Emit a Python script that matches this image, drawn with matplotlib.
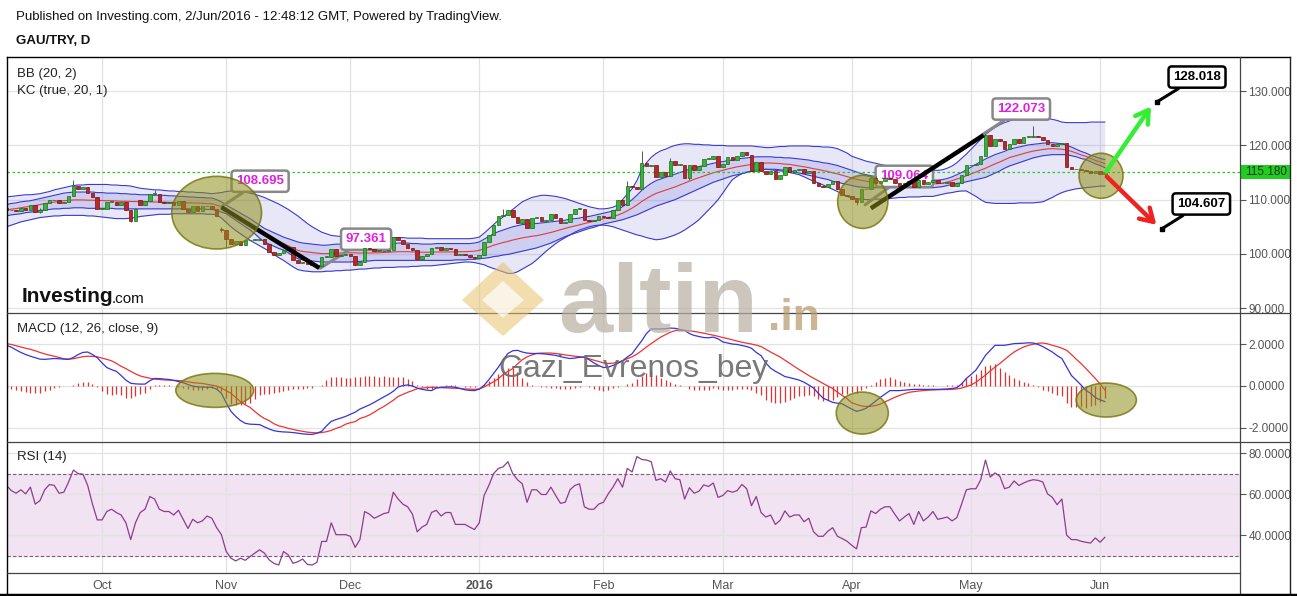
import matplotlib
matplotlib.use('Agg')
import numpy as np
import pandas as pd
import matplotlib.pyplot as plt
from matplotlib.patches import Ellipse, Rectangle, Polygon
from matplotlib.lines import Line2D

plt.rcParams['font.family'] = ['Liberation Sans', 'DejaVu Sans']
plt.rcParams['axes.unicode_minus'] = False

# daily bars (sunday sessions included, no saturdays)
dates = pd.date_range('2015-09-08', '2016-06-02')
dates = dates[dates.dayofweek != 5]
month_labels = ['Oct', 'Nov', 'Dec', '2016', 'Feb', 'Mar', 'Apr', 'May', 'Jun']

close = [
    108.0, 108.0, 107.9, 108.5, 108.0, 109.0, 107.7, 108.0, 109.3, 109.9,
    110.0, 109.3, 109.6, 110.6, 112.6, 112.0, 112.3, 111.2, 110.5, 108.3,
    108.3, 109.6, 109.6, 109.0, 109.5, 108.0, 106.1, 108.2, 109.1, 109.7,
    111.1, 111.1, 109.6, 109.4, 109.6, 109.1, 109.7, 108.3, 107.7, 108.8,
    107.9, 108.8, 108.8, 108.2, 106.9, 104.4, 102.8, 101.9, 102.4, 101.7,
    102.5, 102.6, 102.6, 102.8, 101.9, 100.4, 99.8, 100.1, 100.7, 101.2,
    98.8, 98.3, 98.5, 98.2, 97.9, 97.7, 99.4, 99.4, 100.9, 99.6,
    99.8, 99.9, 99.6, 98.0, 98.5, 101.0, 100.9, 100.6, 100.6, 100.5,
    100.7, 103.1, 102.5, 101.9, 101.0, 100.8, 99.0, 99.6, 99.9, 101.0,
    101.2, 100.7, 101.0, 100.9, 99.8, 99.9, 99.8, 99.5, 99.3, 99.8,
    102.2, 103.4, 105.3, 106.9, 107.1, 108.0, 106.8, 105.7, 106.5, 104.7,
    106.7, 106.8, 106.1, 106.2, 107.4, 106.7, 105.7, 105.9, 107.4, 108.3,
    108.3, 106.2, 106.1, 106.2, 106.9, 106.8, 106.7, 108.0, 109.9, 109.0,
    112.6, 112.3, 112.0, 116.8, 116.2, 116.3, 114.2, 115.1, 114.4, 117.2,
    116.4, 116.4, 114.0, 116.4, 115.4, 116.2, 117.5, 117.5, 118.1, 116.1,
    116.5, 117.8, 117.4, 118.0, 118.8, 118.2, 115.3, 117.0, 115.2, 114.8,
    115.3, 113.8, 114.6, 116.0, 115.1, 115.5, 115.6, 114.9, 115.3, 113.1,
    112.5, 112.3, 112.8, 113.4, 111.9, 110.9, 110.7, 110.1, 109.6, 111.9,
    111.9, 114.0, 113.1, 113.5, 113.9, 113.8, 113.0, 112.5, 113.0, 113.4,
    112.3, 113.6, 112.8, 113.2, 113.7, 113.0, 113.1, 113.2, 112.6, 113.1,
    114.6, 116.3, 116.3, 116.5, 118.0, 122.0, 119.8, 121.1, 120.8, 119.3,
    120.2, 121.2, 120.4, 121.6, 121.6, 121.8, 121.6, 121.0, 120.2, 119.8,
    120.2, 120.5, 116.1, 115.6, 115.6, 115.4, 115.2, 115.0, 115.2, 114.7,
    115.18]
first_open = 108.5
open_fix = {28: 109.9, 45: 104.6}          # sessions that opened away from the previous close
wick_hi = {7: 108.4, 14: 113.6, 31: 111.7, 45: 104.9, 104: 108.3, 130: 113.4,
           133: 118.9, 139: 117.6, 182: 114.4, 205: 122.07, 215: 123.6}
wick_lo = {7: 107.5, 26: 105.9, 45: 104.0, 46: 101.3, 65: 97.36, 143: 113.6, 178: 109.06}

bb_up = [
    110.5, 110.6, 110.7, 110.8, 110.9, 110.9, 111.0, 111.1, 111.3, 111.5,
    111.8, 112.0, 112.2, 112.4, 112.6, 112.7, 112.7, 112.8, 112.8, 112.8,
    112.8, 112.8, 112.7, 112.7, 112.6, 112.6, 112.5, 112.3, 112.1, 112.0,
    111.9, 111.8, 111.8, 111.7, 111.6, 111.6, 111.5, 111.5, 111.4, 111.4,
    111.3, 111.3, 111.2, 111.1, 111.2, 111.3, 111.5, 111.6, 111.6, 111.6,
    111.4, 111.2, 111.0, 110.7, 110.4, 110.0, 109.6, 109.2, 108.7, 108.2,
    107.6, 107.0, 106.3, 105.6, 105.0, 104.5, 104.0, 103.7, 103.4, 103.3,
    103.2, 103.1, 103.1, 103.1, 103.1, 103.1, 103.1, 103.1, 103.1, 103.1,
    103.0, 103.0, 103.0, 103.0, 102.9, 102.9, 102.9, 102.9, 102.8, 102.8,
    102.8, 102.8, 102.8, 102.8, 102.8, 102.8, 102.8, 102.8, 102.9, 103.1,
    103.8, 104.6, 105.4, 106.2, 106.8, 107.5, 108.2, 108.9, 109.6, 110.0,
    110.4, 110.6, 110.8, 110.8, 110.7, 110.6, 110.4, 110.2, 109.9, 109.6,
    109.3, 109.0, 108.7, 108.5, 108.3, 108.3, 108.4, 108.6, 109.0, 110.0,
    111.0, 112.0, 113.5, 115.5, 116.8, 117.8, 118.5, 119.0, 119.3, 119.7,
    120.0, 120.2, 120.3, 120.3, 120.2, 120.2, 120.1, 120.1, 120.0, 120.0,
    120.0, 119.9, 119.9, 119.9, 119.9, 119.9, 119.9, 119.8, 119.7, 119.6,
    119.6, 119.7, 119.8, 119.8, 119.9, 119.9, 119.9, 119.9, 119.9, 119.8,
    119.8, 119.7, 119.7, 119.6, 119.4, 119.0, 118.6, 118.0, 117.7, 117.4,
    117.1, 116.9, 116.7, 116.5, 116.3, 116.2, 116.0, 115.9, 115.8, 115.7,
    115.6, 115.5, 115.5, 115.4, 115.4, 115.4, 115.5, 115.8, 116.2, 116.8,
    117.6, 118.4, 119.3, 120.2, 121.1, 122.0, 122.7, 123.3, 123.8, 124.2,
    124.5, 124.8, 125.0, 125.1, 125.2, 125.3, 125.3, 125.2, 125.0, 124.8,
    124.6, 124.3, 124.2, 124.2, 124.2, 124.2, 124.2, 124.3, 124.3, 124.3,
    124.3]
bb_lo = [
    105.0, 105.3, 105.6, 105.9, 106.1, 106.3, 106.5, 106.7, 106.8, 106.9,
    107.0, 107.0, 107.1, 107.1, 107.1, 107.1, 107.1, 107.0, 107.0, 106.9,
    106.8, 106.7, 106.6, 106.5, 106.5, 106.5, 106.6, 106.7, 106.9, 107.0,
    107.1, 107.2, 107.3, 107.3, 107.3, 107.4, 107.4, 107.4, 107.4, 107.4,
    107.4, 107.4, 107.3, 107.3, 107.2, 106.6, 105.8, 105.0, 104.3, 103.7,
    103.1, 102.5, 102.0, 101.5, 101.0, 100.5, 99.9, 99.3, 98.8, 98.2,
    97.6, 97.1, 96.9, 96.8, 96.7, 96.7, 96.7, 96.8, 96.8, 96.9,
    96.9, 97.0, 97.0, 97.1, 97.2, 97.2, 97.3, 97.4, 97.4, 97.5,
    97.5, 97.5, 97.6, 97.6, 97.6, 97.7, 97.7, 97.8, 97.8, 97.8,
    97.9, 98.0, 98.1, 98.2, 98.3, 98.4, 98.5, 98.5, 98.4, 98.2,
    98.0, 97.6, 97.3, 97.0, 96.7, 96.4, 96.4, 96.7, 97.2, 97.7,
    98.2, 98.9, 99.7, 100.5, 101.2, 101.9, 102.5, 103.0, 103.5, 104.0,
    104.4, 104.7, 105.0, 105.2, 105.3, 105.3, 105.2, 105.0, 104.7, 104.4,
    104.1, 103.8, 103.5, 103.3, 103.0, 102.8, 102.6, 102.7, 102.9, 103.2,
    103.5, 103.9, 104.4, 105.0, 105.6, 106.3, 107.2, 108.1, 109.0, 110.0,
    111.2, 112.5, 113.7, 114.3, 114.8, 115.1, 115.2, 115.4, 115.5, 115.6,
    115.5, 115.4, 115.3, 115.2, 115.0, 114.8, 114.6, 114.2, 113.8, 113.4,
    113.1, 112.7, 112.3, 111.9, 111.5, 111.0, 110.6, 110.3, 110.2, 110.1,
    110.0, 110.0, 110.1, 110.1, 110.2, 110.2, 110.3, 110.4, 110.4, 110.5,
    110.5, 110.5, 110.6, 110.6, 110.6, 110.8, 111.0, 111.2, 111.3, 111.5,
    111.6, 111.6, 111.1, 110.6, 110.0, 109.5, 109.4, 109.3, 109.3, 109.3,
    109.3, 109.3, 109.4, 109.4, 109.4, 109.4, 109.5, 109.6, 110.0, 110.4,
    110.9, 111.3, 111.6, 111.8, 112.0, 112.1, 112.2, 112.3, 112.4, 112.5,
    112.5]
kc_up = [
    109.1, 109.3, 109.4, 109.6, 109.7, 109.8, 110.0, 110.2, 110.4, 110.6,
    110.8, 111.0, 111.2, 111.3, 111.4, 111.4, 111.4, 111.4, 111.4, 111.3,
    111.3, 111.2, 111.2, 111.2, 111.1, 111.1, 111.0, 111.0, 110.9, 110.9,
    110.9, 110.8, 110.8, 110.8, 110.7, 110.7, 110.6, 110.6, 110.5, 110.5,
    110.4, 110.4, 110.3, 110.3, 110.0, 109.6, 109.0, 108.5, 108.0, 107.5,
    107.0, 106.5, 105.9, 105.3, 104.7, 104.3, 103.9, 103.5, 103.1, 102.8,
    102.5, 102.2, 102.0, 101.9, 101.8, 101.7, 101.6, 101.6, 101.7, 101.8,
    101.8, 101.9, 101.9, 101.8, 101.7, 101.7, 101.6, 101.6, 101.6, 101.7,
    101.8, 101.9, 102.0, 102.0, 102.0, 101.9, 101.9, 101.8, 101.8, 101.8,
    101.9, 101.9, 101.9, 101.9, 101.9, 101.9, 101.9, 101.9, 102.0, 102.2,
    102.7, 103.2, 103.7, 104.1, 104.4, 104.7, 105.0, 105.2, 105.4, 105.5,
    105.6, 105.6, 105.7, 105.8, 105.9, 106.0, 106.1, 106.2, 106.4, 106.5,
    106.6, 106.8, 106.9, 107.1, 107.3, 107.5, 107.7, 107.9, 108.2, 108.7,
    109.3, 110.0, 110.8, 111.7, 112.4, 113.0, 113.5, 113.8, 114.1, 114.4,
    114.7, 115.0, 115.3, 115.6, 115.9, 116.1, 116.3, 116.5, 116.7, 116.9,
    117.0, 117.2, 117.3, 117.5, 117.6, 117.7, 117.8, 117.9, 117.9, 117.9,
    117.9, 117.8, 117.8, 117.7, 117.7, 117.6, 117.5, 117.4, 117.3, 117.1,
    117.0, 116.8, 116.7, 116.5, 116.3, 116.0, 115.7, 115.4, 115.1, 114.8,
    114.6, 114.4, 114.3, 114.1, 114.0, 113.9, 113.8, 113.8, 113.7, 113.7,
    113.7, 113.6, 113.6, 113.6, 113.6, 113.6, 113.7, 113.9, 114.2, 114.6,
    115.0, 115.5, 116.0, 116.5, 117.0, 117.5, 117.9, 118.3, 118.6, 118.9,
    119.3, 119.5, 119.7, 119.9, 120.1, 120.2, 120.3, 120.4, 120.5, 120.5,
    120.4, 120.3, 120.0, 119.7, 119.3, 118.9, 118.6, 118.2, 117.9, 117.6,
    117.4]
kc_lo = [
    107.0, 107.2, 107.3, 107.4, 107.6, 107.7, 107.8, 108.0, 108.1, 108.2,
    108.3, 108.3, 108.4, 108.4, 108.5, 108.5, 108.5, 108.4, 108.4, 108.4,
    108.4, 108.4, 108.4, 108.3, 108.3, 108.3, 108.3, 108.3, 108.3, 108.3,
    108.3, 108.3, 108.3, 108.3, 108.3, 108.3, 108.3, 108.3, 108.3, 108.3,
    108.3, 108.3, 108.2, 108.2, 108.0, 107.7, 107.4, 106.8, 106.2, 105.6,
    105.0, 104.4, 103.7, 102.9, 102.2, 101.8, 101.4, 101.0, 100.7, 100.2,
    99.6, 99.1, 98.9, 98.8, 98.7, 98.6, 98.5, 98.5, 98.5, 98.5,
    98.5, 98.5, 98.5, 98.6, 98.6, 98.7, 98.7, 98.8, 98.8, 98.8,
    98.8, 98.8, 98.8, 98.8, 98.8, 98.8, 98.8, 98.8, 98.8, 98.8,
    98.8, 98.8, 98.8, 98.8, 98.9, 98.9, 98.9, 99.0, 99.0, 99.1,
    99.2, 99.3, 99.5, 99.6, 99.8, 99.9, 100.1, 100.3, 100.5, 100.7,
    100.9, 101.1, 101.4, 101.7, 102.0, 102.4, 102.8, 103.2, 103.5, 103.8,
    104.1, 104.4, 104.7, 104.9, 105.2, 105.5, 105.7, 105.9, 106.1, 106.3,
    106.6, 106.9, 107.2, 107.6, 108.0, 108.4, 108.8, 109.1, 109.4, 109.7,
    110.0, 110.4, 110.8, 111.2, 111.6, 112.0, 112.4, 112.8, 113.2, 113.5,
    113.8, 114.1, 114.4, 114.6, 114.8, 115.0, 115.2, 115.4, 115.5, 115.6,
    115.6, 115.6, 115.5, 115.4, 115.3, 115.1, 114.9, 114.7, 114.5, 114.3,
    114.1, 113.9, 113.7, 113.4, 113.2, 113.0, 112.8, 112.6, 112.4, 112.3,
    112.2, 112.2, 112.2, 112.2, 112.2, 112.2, 112.2, 112.2, 112.2, 112.2,
    112.2, 112.2, 112.2, 112.2, 112.2, 112.3, 112.4, 112.6, 112.8, 113.0,
    113.1, 113.3, 113.5, 113.7, 113.9, 114.1, 114.5, 114.9, 115.3, 115.8,
    116.2, 116.5, 116.8, 117.1, 117.4, 117.7, 117.9, 118.1, 118.2, 118.3,
    118.3, 118.3, 118.3, 118.1, 117.9, 117.6, 117.4, 117.0, 116.6, 116.3,
    115.9]

macd = [
    1.94, 1.85, 1.72, 1.60, 1.50, 1.42, 1.35, 1.28, 1.27, 1.29,
    1.31, 1.30, 1.28, 1.27, 1.36, 1.50, 1.60, 1.62, 1.50, 1.35,
    1.10, 0.88, 0.78, 0.70, 0.50, 0.28, 0.13, 0.10, 0.09, 0.09,
    0.25, 0.36, 0.35, 0.33, 0.31, 0.27, 0.21, 0.16, 0.07, -0.01,
    -0.04, -0.05, -0.06, -0.06, -0.15, -0.35, -0.80, -1.21, -1.45, -1.65,
    -1.78, -1.82, -1.83, -1.84, -1.95, -2.05, -2.13, -2.17, -2.19, -2.20,
    -2.22, -2.25, -2.28, -2.30, -2.31, -2.25, -2.16, -1.90, -1.69, -1.60,
    -1.53, -1.45, -1.35, -1.25, -1.10, -1.00, -0.90, -0.78, -0.65, -0.52,
    -0.40, -0.25, -0.05, 0.02, 0.05, 0.00, -0.10, -0.16, -0.20, -0.22,
    -0.10, -0.06, -0.05, -0.04, -0.06, -0.12, -0.18, -0.21, -0.22, -0.15,
    0.03, 0.30, 0.60, 0.90, 1.25, 1.55, 1.68, 1.70, 1.62, 1.57,
    1.55, 1.55, 1.54, 1.52, 1.49, 1.46, 1.40, 1.35, 1.31, 1.33,
    1.37, 1.38, 1.25, 1.10, 0.98, 0.88, 0.90, 0.98, 1.08, 1.20,
    1.38, 1.54, 1.85, 2.15, 2.50, 2.72, 2.72, 2.72, 2.73, 2.76,
    2.75, 2.70, 2.65, 2.50, 2.41, 2.36, 2.31, 2.30, 2.33, 2.25,
    2.10, 2.05, 2.00, 1.98, 1.93, 1.88, 1.80, 1.60, 1.45, 1.10,
    0.85, 0.70, 0.58, 0.45, 0.40, 0.34, 0.28, 0.18, 0.05, -0.10,
    -0.35, -0.58, -0.68, -0.78, -0.82, -0.85, -0.98, -1.10, -1.21, -1.15,
    -1.06, -0.90, -0.72, -0.54, -0.38, -0.22, -0.22, -0.22, -0.20, -0.18,
    -0.16, -0.16, -0.16, -0.16, -0.16, -0.16, -0.15, -0.14, -0.12, -0.08,
    0.10, 0.36, 0.55, 0.76, 1.10, 1.46, 1.70, 1.94, 1.94, 1.94,
    1.98, 2.02, 2.03, 2.04, 2.06, 2.05, 1.98, 1.88, 1.75, 1.62,
    1.45, 1.31, 0.90, 0.50, 0.28, 0.05, -0.20, -0.35, -0.55, -0.66,
    -0.74]
signal = [
    2.02, 1.98, 1.92, 1.86, 1.80, 1.75, 1.68, 1.60, 1.53, 1.47,
    1.42, 1.36, 1.30, 1.28, 1.30, 1.35, 1.40, 1.42, 1.41, 1.39,
    1.33, 1.27, 1.20, 1.08, 0.94, 0.83, 0.70, 0.58, 0.48, 0.42,
    0.37, 0.33, 0.31, 0.29, 0.28, 0.27, 0.26, 0.24, 0.20, 0.16,
    0.14, 0.12, 0.08, 0.04, 0.00, -0.10, -0.22, -0.35, -0.55, -0.75,
    -0.90, -1.02, -1.22, -1.40, -1.55, -1.65, -1.80, -1.90, -1.95, -2.02,
    -2.07, -2.12, -2.16, -2.20, -2.22, -2.24, -2.22, -2.18, -2.12, -2.02,
    -1.95, -1.82, -1.75, -1.70, -1.55, -1.48, -1.38, -1.25, -1.10, -0.98,
    -0.83, -0.68, -0.50, -0.40, -0.30, -0.22, -0.13, -0.10, -0.08, -0.06,
    -0.07, -0.08, -0.09, -0.10, -0.11, -0.12, -0.14, -0.15, -0.16, -0.14,
    -0.05, 0.08, 0.20, 0.35, 0.55, 0.70, 0.83, 1.05, 1.25, 1.39,
    1.48, 1.55, 1.57, 1.57, 1.57, 1.55, 1.52, 1.48, 1.45, 1.42,
    1.40, 1.36, 1.30, 1.23, 1.17, 1.10, 1.07, 1.09, 1.13, 1.20,
    1.30, 1.39, 1.52, 1.68, 1.86, 2.02, 2.18, 2.33, 2.45, 2.56,
    2.64, 2.66, 2.65, 2.63, 2.60, 2.56, 2.52, 2.47, 2.42, 2.37,
    2.31, 2.26, 2.20, 2.14, 2.09, 2.04, 2.00, 1.95, 1.88, 1.75,
    1.62, 1.50, 1.38, 1.23, 1.08, 0.93, 0.78, 0.64, 0.50, 0.37,
    0.25, 0.12, 0.00, -0.12, -0.30, -0.45, -0.60, -0.80, -0.88, -0.95,
    -0.98, -0.97, -0.93, -0.86, -0.75, -0.65, -0.54, -0.45, -0.37, -0.30,
    -0.27, -0.24, -0.22, -0.20, -0.19, -0.18, -0.17, -0.17, -0.16, -0.14,
    -0.10, -0.03, 0.05, 0.18, 0.35, 0.52, 0.72, 0.90, 1.07, 1.26,
    1.45, 1.62, 1.75, 1.86, 1.94, 1.99, 2.04, 2.05, 2.01, 1.94,
    1.88, 1.80, 1.70, 1.50, 1.28, 1.07, 0.84, 0.60, 0.36, 0.10,
    -0.19]

rsi = [
    64.2, 61.7, 60.4, 62.1, 60.1, 63.4, 55.1, 56.8, 62.1, 64.7,
    64.2, 60.4, 60.9, 65.9, 71.7, 70.0, 69.7, 64.2, 55.1, 47.4,
    47.4, 51.5, 52.6, 51.0, 49.8, 46.0, 37.8, 46.0, 51.0, 52.6,
    58.8, 57.6, 52.6, 51.5, 51.5, 49.8, 52.1, 47.7, 43.2, 47.7,
    46.0, 46.9, 49.3, 48.2, 43.6, 40.2, 32.0, 28.7, 27.4, 28.7,
    27.7, 29.5, 31.2, 32.8, 31.2, 27.9, 26.2, 25.4, 32.0, 30.3,
    26.2, 27.0, 28.3, 25.7, 25.4, 26.7, 36.9, 36.9, 46.0, 40.2,
    40.2, 40.2, 39.4, 34.0, 37.8, 51.5, 50.2, 48.2, 49.3, 50.5,
    51.0, 60.9, 57.6, 55.1, 53.8, 50.2, 41.6, 43.9, 45.2, 51.0,
    52.1, 49.3, 51.0, 51.0, 45.2, 45.2, 45.2, 43.9, 42.7, 46.0,
    59.3, 64.2, 70.0, 72.5, 73.3, 75.8, 70.0, 67.0, 65.0, 56.0,
    62.1, 62.1, 59.8, 59.8, 63.4, 59.3, 55.5, 56.0, 62.1, 64.2,
    65.0, 53.8, 52.6, 52.6, 55.1, 56.0, 60.1, 63.4, 67.5, 63.4,
    72.5, 70.8, 78.3, 76.9, 76.6, 75.8, 66.7, 67.5, 65.9, 71.3,
    67.5, 67.0, 57.6, 63.1, 60.4, 61.4, 64.5, 63.7, 65.4, 58.4,
    59.3, 61.7, 60.9, 61.7, 64.7, 62.6, 54.3, 58.8, 51.0, 48.8,
    49.8, 45.2, 47.2, 51.8, 48.8, 49.8, 49.8, 46.5, 48.2, 41.6,
    39.4, 39.4, 41.9, 43.6, 39.4, 38.3, 37.0, 35.0, 33.3, 43.6,
    43.9, 51.8, 50.5, 52.6, 53.8, 53.8, 50.2, 46.9, 48.8, 50.5,
    45.2, 51.5, 46.9, 48.8, 51.5, 47.7, 48.2, 48.8, 46.9, 48.5,
    55.1, 62.1, 62.6, 62.6, 67.0, 76.6, 68.3, 70.3, 68.7, 62.6,
    63.4, 66.4, 64.2, 65.4, 66.4, 67.0, 66.7, 65.9, 60.1, 58.4,
    54.8, 57.6, 39.9, 37.8, 37.8, 37.0, 36.5, 36.1, 38.6, 36.5,
    38.9]

last_price = 115.18


def fx(px):
    return px / 1297


def fy(py):
    return 1 - py / 596


fig = plt.figure(figsize=(12.97, 5.96), dpi=100)
fig.patch.set_facecolor('white')
ax_p = fig.add_axes([fx(7), fy(313), fx(1233), 256 / 596])
ax_m = fig.add_axes([fx(7), fy(442), fx(1233), 129 / 596], sharex=ax_p)
ax_r = fig.add_axes([fx(7), fy(573), fx(1233), 131 / 596], sharex=ax_p)

idx = np.arange(len(close))
month_idx = [i for i in range(1, len(dates)) if dates[i].month != dates[i - 1].month]

grid_c = '#e2e2e2'
for ax in (ax_p, ax_m, ax_r):
    for s in ax.spines.values():
        s.set_visible(False)
    ax.set_xticks(month_idx)
    ax.grid(True, color=grid_c, lw=0.9)
    ax.set_axisbelow(True)
    ax.yaxis.tick_right()
    ax.tick_params(axis='y', length=4, width=0.8, color='#555555', labelcolor='#555555',
                   labelsize=8.5, pad=2)
    ax.tick_params(axis='x', length=0)
ax_p.tick_params(axis='x', labelbottom=False)
ax_m.tick_params(axis='x', labelbottom=False)
ax_p.set_xlim(0.1, 258.3)

# ---- price panel ----
ax_p.set_ylim(89.1, 136.3)
ax_p.set_yticks([90, 100, 110, 120, 130])
ax_p.set_yticklabels(['%.3f' % v for v in [90, 100, 110, 120, 130]])

band_c = '#3a3acd'
ax_p.fill_between(idx, bb_lo, bb_up, color='#6a6ad8', alpha=0.16, lw=0, zorder=1)
ax_p.fill_between(idx, kc_lo, kc_up, color='#6a6ad8', alpha=0.2, lw=0, zorder=1.2)
for band in (bb_up, bb_lo, kc_up, kc_lo):
    ax_p.plot(idx, band, color=band_c, lw=0.8, zorder=1.5)
kc_mid = (np.array(kc_up) + np.array(kc_lo)) / 2
ax_p.plot(idx, kc_mid, color='#e03c3c', lw=0.8, zorder=1.6)

opens = [open_fix.get(i, close[i - 1] if i else first_open) for i in idx]
up = [c >= o for o, c in zip(opens, close)]
bottoms = [min(o, c) for o, c in zip(opens, close)]
heights = [max(abs(c - o), 0.12) for o, c in zip(opens, close)]
tops = [b + h for b, h in zip(bottoms, heights)]
highs = [wick_hi.get(i, tops[i]) for i in idx]
lows = [wick_lo.get(i, bottoms[i]) for i in idx]
ax_p.vlines(idx, lows, highs, color='#555555', lw=0.7, zorder=2.8)
ax_p.bar(idx, heights, bottom=bottoms, width=0.75,
         color=['#35b535' if u else '#b82828' for u in up],
         edgecolor=['#1d6a1d' if u else '#6e1414' for u in up], lw=0.5, zorder=3)

ax_p.axhline(last_price, color='#22cc22', ls=(0, (2, 2)), lw=0.9, zorder=2)

# drawings on the price panel
ax_p.plot([45, 65.5], [108.6, 97.4], color='black', lw=3.2, solid_capstyle='butt', zorder=4)
ax_p.plot([181, 204.6], [108.4, 121.9], color='black', lw=3.2, solid_capstyle='butt', zorder=4)


def callout(ax, text, xy, xytext, edge, tcolor, z):
    ax.annotate(text, xy=xy, xytext=xytext, ha='center', va='center', fontsize=9.5,
                color=tcolor, fontweight='bold',
                bbox=dict(boxstyle='round,pad=0.35,rounding_size=0.25', fc='white', ec=edge, lw=1.8),
                arrowprops=dict(arrowstyle='-', color=edge, lw=2.2, shrinkA=0, shrinkB=0),
                zorder=z)


callout(ax_p, '108.695', (45, 108.695), (53.1, 113.4), '#888888', '#e020e0', 2.5)
callout(ax_p, '97.361', (65.7, 97.361), (75.3, 102.7), '#888888', '#e020e0', 2.5)
callout(ax_p, '122.073', (204.5, 122.073), (212.5, 126.7), '#888888', '#e020e0', 2.5)
callout(ax_p, '109.064', (179.8, 109.06), (188, 114.3), '#888888', '#e020e0', 2.5)
callout(ax_p, '128.018', (240.9, 128.018), (249.3, 132.6), 'black', 'black', 6)
callout(ax_p, '104.607', (241.9, 104.607), (250.2, 109.2), 'black', 'black', 6)
ax_p.plot([240.9, 241.9], [128.018, 104.607], 's', color='black', ms=3, zorder=6)

ax_p.annotate('', xy=(240.0, 127.6), xytext=(230, 114.8),
              arrowprops=dict(arrowstyle='->,head_length=0.9,head_width=0.55', color='#33ee33', lw=3.2),
              zorder=6)
ax_p.annotate('', xy=(241.2, 105.0), xytext=(230, 114.6),
              arrowprops=dict(arrowstyle='->,head_length=0.9,head_width=0.55', color='#ee2222', lw=3.2),
              zorder=6)

olive = dict(fc=(0.56, 0.56, 0.10, 0.55), ec=(0.45, 0.45, 0.05, 0.8), lw=1.2, zorder=5)
ax_p.add_patch(Ellipse((44.0, 107.6), 18.8, 13.4, **olive))
ax_p.add_patch(Ellipse((179.3, 109.6), 10.5, 9.8, **olive))
ax_p.add_patch(Ellipse((229.2, 114.4), 9.2, 8.3, **olive))

ax_p.text(0.008, 0.935, 'BB (20, 2)', transform=ax_p.transAxes, fontsize=9.5, va='center', color='#222222')
ax_p.text(0.008, 0.868, 'KC (true, 20, 1)', transform=ax_p.transAxes, fontsize=9.5, va='center', color='#222222')

# ---- MACD panel ----
ax_m.set_ylim(-2.67, 3.48)
ax_m.set_yticks([-2, 0, 2])
ax_m.set_yticklabels(['-2.0000', '0.0000', '2.0000'])
hist = np.array(macd) - np.array(signal)
ax_m.vlines(idx, 0, hist, color='#e03030', lw=0.9, zorder=2)
ax_m.plot(idx, signal, color='#ee3333', lw=0.9, zorder=3)
ax_m.plot(idx, macd, color='#3434d8', lw=0.9, zorder=3)
ax_m.add_patch(Ellipse((43.6, -0.21), 16.3, 1.62, **olive))
ax_m.add_patch(Ellipse((179.2, -1.29), 10.9, 2.0, **olive))
ax_m.add_patch(Ellipse((230.3, -0.67), 12.6, 1.62, **olive))
ax_m.text(0.008, 0.875, 'MACD (12, 26, close, 9)', transform=ax_m.transAxes, fontsize=9.5,
          va='center', color='#222222')

# ---- RSI panel ----
ax_r.set_ylim(21.5, 85.4)
ax_r.set_yticks([40, 60, 80])
ax_r.set_yticklabels(['40.0000', '60.0000', '80.0000'])
ax_r.axhspan(30, 70, color='#f1e3f1', zorder=0.5)
for lvl in (30, 70):
    ax_r.axhline(lvl, color='#7a5a7a', ls=(0, (3, 2)), lw=0.8, zorder=1)
ax_r.plot(idx, rsi, color='#8e3c8e', lw=0.9, zorder=3)
ax_r.text(0.008, 0.885, 'RSI (14)', transform=ax_r.transAxes, fontsize=9.5, va='center', color='#222222')
ax_r.set_xticklabels(month_labels)
ax_r.tick_params(axis='x', labelsize=9, labelcolor='#555555', pad=5)
for t in ax_r.get_xticklabels():
    if t.get_text() == '2016':
        t.set_fontweight('bold')

# ---- frame, separators and the price tag ----
def fline(x0, y0, x1, y1, color, lw):
    fig.add_artist(Line2D([fx(x0), fx(x1)], [fy(y0), fy(y1)], color=color, lw=lw))


fline(7, 57, 1290, 57, 'black', 1.0)
fline(7, 57, 7, 594, 'black', 1.0)
fline(1290, 57, 1290, 594, '#222222', 1.0)
fline(1240, 57, 1240, 594, '#444444', 0.9)
fline(7, 313, 1290, 313, '#444444', 0.9)
fline(7, 442, 1290, 442, '#444444', 0.9)
fline(7, 573, 1240, 573, '#444444', 0.9)
fline(0, 595, 1297, 595, 'black', 2.5)

fig.add_artist(Rectangle((fx(1240), fy(179)), fx(50), 14 / 596, color='#22cc22', lw=0))
fig.text(fx(1266), fy(172), '115.180', ha='center', va='center', fontsize=8.5, color='#1a3a1a')

fig.text(fx(16), fy(17), 'Published on Investing.com, 2/Jun/2016 - 12:48:12 GMT, Powered by TradingView.',
         fontsize=9.5, va='center', color='#111111')
fig.text(fx(16), fy(41), 'GAU/TRY, D', fontsize=9.5, fontweight='bold', va='center', color='#111111')

# ---- watermarks ----
fig.text(fx(22), fy(297), 'Investing', fontsize=15, fontweight='bold', va='center', color='#111111', zorder=9)
fig.text(fx(112), fy(299), '.com', fontsize=11, va='center', color='#111111', zorder=9)

logo = Polygon([[fx(462), fy(300)], [fx(503), fy(262)], [fx(544), fy(300)], [fx(503), fy(336)]],
               closed=True, fc='#e6c26a', ec='none', alpha=0.55, zorder=9)
fig.add_artist(logo)
logo_in = Polygon([[fx(482), fy(300)], [fx(503), fy(281)], [fx(524), fy(300)], [fx(503), fy(318)]],
                  closed=True, fc='white', ec='none', alpha=0.7, zorder=9)
fig.add_artist(logo_in)
fig.text(fx(558), fy(332), 'altin', fontsize=70, fontweight='bold', color='#b7aea0', alpha=0.7,
         va='baseline', zorder=9)
fig.text(fx(768), fy(330), '.in', fontsize=32, fontweight='bold', color='#b89868', alpha=0.7,
         va='baseline', zorder=9)
fig.text(fx(633), fy(369), 'Gazi_Evrenos_bey', fontsize=23, color='#6a6a6a', alpha=0.9,
         ha='center', va='center', zorder=9)

fig.savefig('out.png', dpi=100)
